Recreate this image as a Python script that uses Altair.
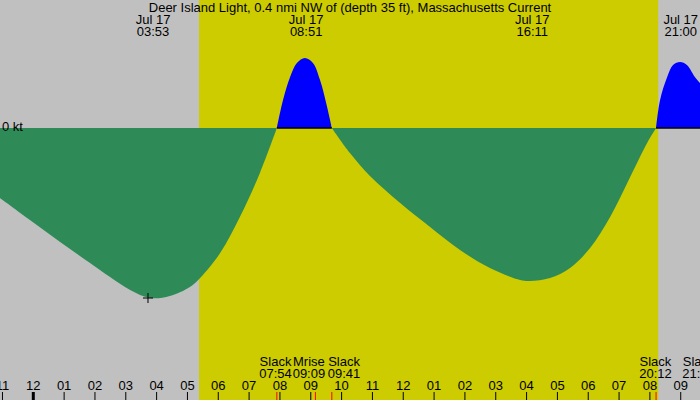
import altair as alt
import pandas as pd

title = "Deer Island Light, 0.4 nmi NW of (depth 35 ft), Massachusetts Current"

# Tidal current: hours after midnight Jul 17, knots
ebb1_h = [-1.08, -0.11, 0.87, 1.84, 2.49, 3.14, 3.79, 4.43, 5.08, 5.41, 6.06, 6.70, 7.35, 7.90]
ebb1_kt = [-0.70, -0.92, -1.14, -1.35, -1.49, -1.62, -1.70, -1.68, -1.59, -1.50, -1.25, -0.89, -0.45, 0.0]
flood1_h = [7.90, 8.10, 8.33, 8.55, 8.81, 9.07, 9.30, 9.53, 9.683]
flood1_kt = [0.0, 0.28, 0.51, 0.65, 0.70, 0.65, 0.48, 0.21, 0.0]
ebb2_h = [9.683, 10.27, 10.92, 11.90, 12.87, 13.84, 14.81, 15.79, 16.11, 16.76, 17.41, 18.06, 18.71, 19.36, 19.91, 20.20]
ebb2_kt = [0.0, -0.25, -0.48, -0.75, -0.99, -1.22, -1.40, -1.52, -1.53, -1.50, -1.40, -1.20, -0.89, -0.49, -0.15, 0.0]
flood2_h = [20.20, 20.33, 20.56, 20.75, 20.98, 21.20, 21.46, 21.625]
flood2_kt = [0.0, 0.28, 0.51, 0.63, 0.66, 0.63, 0.51, 0.45]

sunrise_h = 5.375
sunset_h = 20.27

max_ebb_h = [3.72]
max_ebb_kt = [-1.70]

top_event_h = [3.883, 8.85, 16.183, 21.0]
top_event_date = ["Jul 17", "Jul 17", "Jul 17", "Jul 17"]
top_event_time = ["03:53", "08:51", "16:11", "21:00"]

bot_event_h = [7.90, 9.15, 9.683, 20.20, 21.80]
bot_label_h = [7.856, 8.94, 10.08, 20.18, 21.58]
bot_event_kind = ["Slack", "Mrise", "Slack", "Slack", "Slack"]
bot_event_time = ["07:54", "09:09", "09:41", "20:12", "21:48"]

hour_ticks = list(range(-1, 22))
hour_labels = ["11", "12", "01", "02", "03", "04", "05", "06", "07", "08", "09", "10",
               "11", "12", "01", "02", "03", "04", "05", "06", "07", "08", "09"]
hour_major = [h == 0 for h in hour_ticks]

X_DOMAIN = [-1.08, 21.625]
Y_DOMAIN = [-2.72, 1.28]
FONT = "Liberation Sans"
FS = 13

xs = alt.Scale(domain=X_DOMAIN, nice=False, zero=False)
ys = alt.Scale(domain=Y_DOMAIN, nice=False, zero=False)

curve_rows = []
for seg, (hs, ks, kind) in enumerate([(ebb1_h, ebb1_kt, "ebb"), (flood1_h, flood1_kt, "flood"),
                                       (ebb2_h, ebb2_kt, "ebb"), (flood2_h, flood2_kt, "flood")]):
    for h, k in zip(hs, ks):
        curve_rows.append({"h": h, "kt": k, "seg": seg, "kind": kind})
curve = pd.DataFrame(curve_rows)

sun = pd.DataFrame({"a": [sunrise_h], "b": [sunset_h]})
flood_ranges = pd.DataFrame({"a": [flood1_h[0], flood2_h[0]], "b": [flood1_h[-1], flood2_h[-1]], "z": [0, 0]})
hours = pd.DataFrame({"h": hour_ticks, "lab": hour_labels, "major": hour_major})
top_ev = pd.DataFrame({"h": top_event_h, "d": top_event_date, "t": top_event_time})
bot_ev = pd.DataFrame({"h": bot_event_h, "lh": bot_label_h, "k": bot_event_kind, "t": bot_event_time})
mx = pd.DataFrame({"h": max_ebb_h, "kt": max_ebb_kt})

X = lambda f: alt.X(f, type="quantitative", scale=xs, axis=None)
Y = lambda f: alt.Y(f, type="quantitative", scale=ys, axis=None)

txt = dict(font=FONT, fontSize=FS, align="center", baseline="alphabetic", color="black")

day = alt.Chart(sun).mark_rect(color="#CCCC00", clip=True).encode(
    x=X("a"), x2="b", y=alt.value(0), y2=alt.value(400))

area = alt.Chart(curve).mark_area(interpolate="catmull-rom", clip=True).encode(
    x=X("h"), y=Y("kt"), y2=alt.datum(0), detail="seg:N",
    color=alt.Color("kind:N", scale=alt.Scale(domain=["ebb", "flood"], range=["#2E8B57", "#0000FF"]), legend=None))

zero_rule = alt.Chart(flood_ranges).mark_rule(color="black", strokeWidth=1.5, clip=True).encode(
    x=X("a"), x2="b", y=Y("z"))

zero_lab = alt.Chart(pd.DataFrame({"z": [0], "t": ["0 kt"]})).mark_text(
    font=FONT, fontSize=FS, align="left", baseline="middle", color="black", dy=-1).encode(
    x=alt.value(2), y=Y("z"), text="t:N")

cross = alt.Chart(mx).mark_point(shape="M-1,0L1,0M0,-1L0,1", size=100, filled=False,
                                 color="black", strokeWidth=1, opacity=1).encode(x=X("h"), y=Y("kt"))

title_t = alt.Chart(pd.DataFrame({"t": [title]})).mark_text(**txt).encode(
    x=alt.value(350), y=alt.value(12), text="t:N")

top_d = alt.Chart(top_ev).mark_text(**txt).encode(x=X("h"), y=alt.value(24), text="d:N")
top_t = alt.Chart(top_ev).mark_text(**txt).encode(x=X("h"), y=alt.value(36), text="t:N")

tick = alt.Chart(hours).mark_rule(color="black", clip=True).encode(
    x=X("h"), y=alt.value(392), y2=alt.value(400),
    strokeWidth=alt.condition("datum.major", alt.value(3), alt.value(1)))
tick_lab = alt.Chart(hours).mark_text(**txt).encode(x=X("h"), y=alt.value(389.5), text="lab:N")

ev_tick = alt.Chart(bot_ev).mark_rule(color="red", strokeWidth=1, clip=True).encode(
    x=X("h"), y=alt.value(392), y2=alt.value(400))
ev_k = alt.Chart(bot_ev).mark_text(**txt).encode(x=X("lh"), y=alt.value(366), text="k:N")
ev_t = alt.Chart(bot_ev).mark_text(**txt).encode(x=X("lh"), y=alt.value(378), text="t:N")

chart = alt.layer(day, area, zero_rule, zero_lab, cross, title_t, top_d, top_t,
                  tick, tick_lab, ev_tick, ev_k, ev_t).properties(
    width=700, height=400, autosize=alt.AutoSizeParams(type="none"), padding=0,
    background="#C0C0C0").configure_view(stroke=None, fill="#C0C0C0")

chart.save("out.html", embed_options={"renderer": "svg", "actions": False})
